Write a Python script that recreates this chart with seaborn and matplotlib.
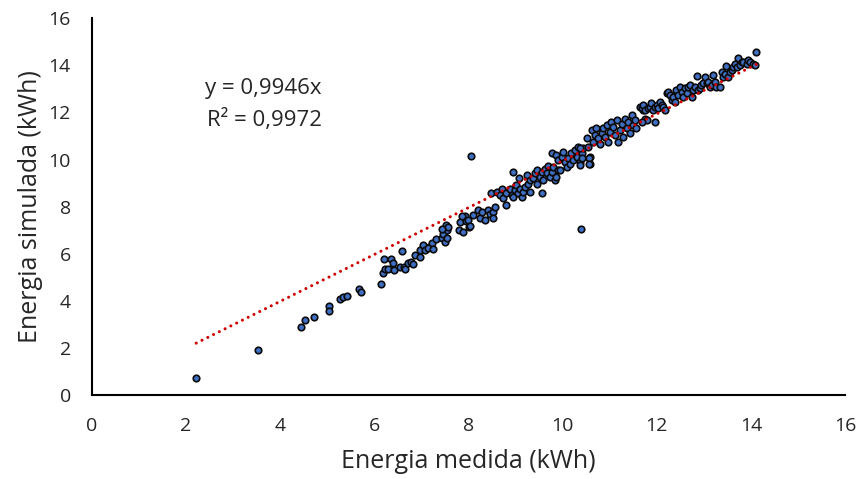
import numpy as np
import pandas as pd
import matplotlib
matplotlib.use("Agg")
import matplotlib.pyplot as plt
import seaborn as sns

# Measured energy (kWh) - x values
medida = [
    2.22, 3.53, 4.44, 4.52, 4.72, 5.04, 5.04, 5.27, 5.33, 5.42, 5.67, 5.71, 6.14,
    6.19, 6.23, 6.20, 6.35, 6.30, 6.39, 6.42, 6.54, 6.64, 6.65, 6.59, 6.72, 6.79,
    6.83, 6.86, 6.97, 6.97, 7.04, 7.08, 7.17, 7.22, 7.15, 7.24, 7.32, 7.43, 7.47,
    7.50, 7.54, 7.55, 7.52, 7.57, 7.45, 7.82, 7.81, 7.93, 7.96, 7.86, 8.02,
    8.05, 9.77, 9.87, 9.57, 10.39, 7.89, 8.00, 8.03, 8.10, 8.21, 8.24, 8.28, 8.35,
    8.42, 8.46, 8.53, 8.56, 8.53,
    8.49, 8.60, 8.67, 8.71, 8.74, 8.81, 8.81, 8.88, 8.92, 8.95, 8.99, 9.02, 9.06,
    9.08, 8.95, 9.09, 9.13, 9.17, 9.20, 9.24, 9.27, 9.31, 9.32, 9.38, 9.41, 9.45,
    9.46, 9.52, 9.56, 9.59, 9.63, 9.66, 9.70, 9.73, 9.77, 9.80, 9.84, 9.87, 9.91,
    9.91, 9.94, 9.98, 10.02, 10.05, 10.09, 10.12, 10.16, 10.19, 10.23, 10.26, 10.30,
    10.33, 10.37, 10.41, 10.44, 10.51, 10.55, 10.58, 10.58, 10.62, 10.65, 10.69,
    10.72, 10.76, 10.79, 10.83, 10.86, 10.90, 10.94, 10.97, 11.01, 11.04, 11.08,
    11.11, 11.15, 11.18, 11.22, 11.26, 11.29, 11.33, 11.36, 11.40, 11.43, 11.47,
    11.50, 11.54, 11.57, 11.64, 11.72, 11.75, 11.79, 10.37, 10.41, 10.37, 10.57,
    10.57,
    11.68, 11.71, 11.75, 11.68, 11.82, 11.86, 11.89, 11.93, 11.96, 11.96, 12.00,
    12.03, 12.07, 12.11, 12.14, 12.18, 12.21, 12.25, 12.28, 12.32, 12.35, 12.39,
    12.42, 12.46, 12.49, 12.53, 12.56, 12.60, 12.64, 12.67, 12.71, 12.74, 12.78,
    12.81, 12.85, 12.88, 12.92, 12.95, 12.99, 13.03, 13.06, 13.10, 13.13, 13.17,
    13.20, 13.24, 13.27, 13.34, 13.38, 13.41, 13.45, 13.47, 13.52, 13.56, 13.59,
    13.63, 13.66, 13.70, 13.73, 13.77, 13.81, 13.84, 13.91, 13.95, 13.98, 14.05,
    14.09, 14.12,
]

# Simulated energy (kWh) - y values
simulada = [
    0.73, 1.92, 2.90, 3.17, 3.32, 3.78, 3.58, 4.09, 4.15, 4.20, 4.50, 4.40, 4.71,
    5.17, 5.35, 5.76, 5.80, 5.35, 5.59, 5.31, 5.45, 5.45, 5.35, 6.11, 5.62, 5.66,
    5.56, 5.94, 5.87, 6.15, 6.37, 6.15, 6.29, 6.44, 6.23, 6.20, 6.61, 6.65, 6.82,
    6.51, 6.68, 7.00, 7.22, 7.14, 7.05, 7.36, 7.00, 7.61, 7.39, 7.61, 7.14,
    10.17, 10.26, 10.19, 8.60, 7.05, 6.93, 7.43, 7.17, 7.64, 7.85, 7.54, 7.78, 7.43,
    7.85, 7.71, 7.78, 7.99, 7.50,
    8.56, 8.63, 8.49, 8.73, 8.35, 8.56, 8.06, 8.77, 8.49, 8.42, 8.70, 8.91, 8.56,
    9.20, 9.48, 8.73, 8.42, 8.63, 8.84, 9.34, 8.98, 9.13, 8.63, 9.20, 9.41, 9.55,
    8.98, 9.27, 9.48, 9.13, 9.62, 9.41, 9.72, 9.27, 9.48, 9.69, 9.13, 9.27, 9.55,
    9.97, 9.55, 10.12, 10.33, 9.90, 9.69, 10.05, 9.83, 10.26, 9.97, 10.40, 10.12,
    10.54, 9.90, 10.26, 10.47, 10.90, 10.54, 10.12, 9.83, 11.25, 10.75, 11.04,
    11.32, 10.90, 10.68, 11.11, 11.32, 10.96, 11.46, 10.75, 11.18, 11.60, 11.39,
    11.04, 11.67, 10.75, 11.25, 11.53, 10.96, 11.74, 11.32, 11.60, 11.11, 11.88,
    11.46, 11.67, 11.32, 12.24, 12.10, 11.74, 11.67, 10.47, 10.05, 9.76, 10.05,
    9.83,
    12.17, 12.31, 12.10, 11.60, 12.17, 12.24, 12.38, 12.10, 12.24, 11.60, 12.31,
    12.17, 12.45, 12.31, 12.24, 12.10, 12.81, 12.87, 12.73, 12.52, 12.66, 12.45,
    12.95, 12.73, 13.09, 12.87, 12.66, 13.02, 12.81, 13.09, 13.16, 12.66, 12.95,
    13.09, 13.54, 12.95, 13.02, 13.16, 13.23, 13.51, 13.23, 13.30, 13.09, 13.16,
    13.58, 13.30, 13.09, 13.09, 13.72, 13.51, 13.65, 13.96, 13.51, 13.72, 13.79,
    13.93, 14.07, 13.93, 14.29, 14.01, 14.15, 14.15, 14.07, 14.22, 14.15, 14.07,
    14.01, 14.57,
]

slope = 0.9946
r2 = 0.9972
x_ticks = [0, 2, 4, 6, 8, 10, 12, 14, 16]
y_ticks = [0, 2, 4, 6, 8, 10, 12, 14, 16]
x_label = "Energia medida (kWh)"
y_label = "Energia simulada (kWh)"

sns.set_theme(style="white")
plt.rcParams['font.family'] = ['Open Sans', 'DejaVu Sans']

txt_color = "#262626"
fig = plt.figure(figsize=(8.57, 4.79), dpi=100)
ax = fig.add_axes([0.107, 0.175, 0.879, 0.787])

df = pd.DataFrame({"medida": medida, "simulada": simulada})
sns.scatterplot(data=df, x="medida", y="simulada", ax=ax, s=22,
                color="#3F6FC2", edgecolor="#0a0a0a", linewidth=1.2,
                zorder=3, legend=False)

xt = np.array([min(medida), max(medida)])
ax.plot(xt, slope * xt, color="#D00000", lw=2.2,
        linestyle=(0, (0.01, 2.1)), dash_capstyle="round", zorder=4)

ax.set_xlim(0, 16)
ax.set_ylim(0, 16)
ax.set_xticks(x_ticks)
ax.set_yticks(y_ticks)
ax.set_xticklabels([str(t) for t in x_ticks])
ax.set_yticklabels([str(t) for t in y_ticks])
ax.tick_params(axis="both", length=0, labelsize=14, colors=txt_color)
ax.tick_params(axis="x", pad=16)
ax.tick_params(axis="y", pad=15)

for side in ["top", "right"]:
    ax.spines[side].set_visible(False)
for side in ["left", "bottom"]:
    ax.spines[side].set_color("black")
    ax.spines[side].set_linewidth(1.5)

ax.set_xlabel(x_label, fontsize=18, color=txt_color, labelpad=10)
ax.set_ylabel(y_label, fontsize=18, color=txt_color, labelpad=4)

eq = "y = " + f"{slope:.4f}".replace(".", ",") + "x"
rr = "R² = " + f"{r2:.4f}".replace(".", ",")
ax.text(2.40, 13.03, eq, fontsize=16, color=txt_color, va="center", ha="left")
ax.text(2.44, 11.67, rr, fontsize=16, color=txt_color, va="center", ha="left")

fig.savefig("out.png", dpi=100)
